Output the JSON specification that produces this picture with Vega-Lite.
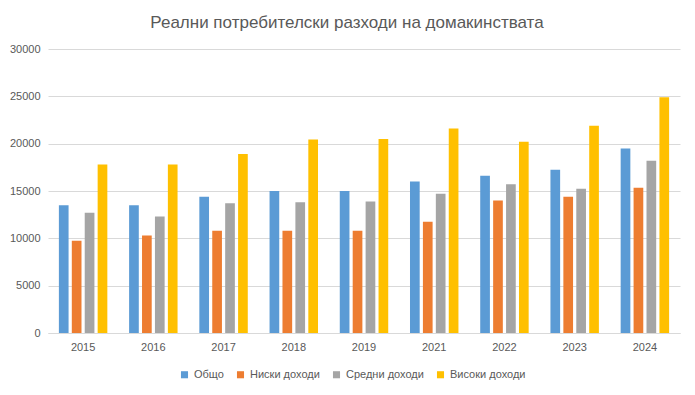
{
  "$schema": "https://vega.github.io/schema/vega-lite/v6.json",
  "width": 632,
  "height": 284,
  "autosize": "none",
  "padding": {"left": 48, "top": 49, "right": 15, "bottom": 62},
  "background": "white",
  "title": {
    "text": "Реални потребителски разходи на домакинствата",
    "fontSize": 17,
    "font": "Liberation Sans",
    "fontWeight": "normal",
    "color": "#595959",
    "anchor": "middle",
    "offset": 11,
    "dx": -17
  },
  "data": {
    "values": [
      {"year": "2015", "series": "Общо", "value": 13500},
      {"year": "2015", "series": "Ниски доходи", "value": 9750},
      {"year": "2015", "series": "Средни доходи", "value": 12700},
      {"year": "2015", "series": "Високи доходи", "value": 17800},
      {"year": "2016", "series": "Общо", "value": 13500},
      {"year": "2016", "series": "Ниски доходи", "value": 10300},
      {"year": "2016", "series": "Средни доходи", "value": 12300},
      {"year": "2016", "series": "Високи доходи", "value": 17800},
      {"year": "2017", "series": "Общо", "value": 14400},
      {"year": "2017", "series": "Ниски доходи", "value": 10800},
      {"year": "2017", "series": "Средни доходи", "value": 13700},
      {"year": "2017", "series": "Високи доходи", "value": 18900},
      {"year": "2018", "series": "Общо", "value": 15000},
      {"year": "2018", "series": "Ниски доходи", "value": 10800},
      {"year": "2018", "series": "Средни доходи", "value": 13800},
      {"year": "2018", "series": "Високи доходи", "value": 20450},
      {"year": "2019", "series": "Общо", "value": 15000},
      {"year": "2019", "series": "Ниски доходи", "value": 10800},
      {"year": "2019", "series": "Средни доходи", "value": 13900},
      {"year": "2019", "series": "Високи доходи", "value": 20500},
      {"year": "2021", "series": "Общо", "value": 16000},
      {"year": "2021", "series": "Ниски доходи", "value": 11750},
      {"year": "2021", "series": "Средни доходи", "value": 14700},
      {"year": "2021", "series": "Високи доходи", "value": 21600},
      {"year": "2022", "series": "Общо", "value": 16600},
      {"year": "2022", "series": "Ниски доходи", "value": 14000},
      {"year": "2022", "series": "Средни доходи", "value": 15700},
      {"year": "2022", "series": "Високи доходи", "value": 20200},
      {"year": "2023", "series": "Общо", "value": 17250},
      {"year": "2023", "series": "Ниски доходи", "value": 14400},
      {"year": "2023", "series": "Средни доходи", "value": 15250},
      {"year": "2023", "series": "Високи доходи", "value": 21900},
      {"year": "2024", "series": "Общо", "value": 19500},
      {"year": "2024", "series": "Ниски доходи", "value": 15350},
      {"year": "2024", "series": "Средни доходи", "value": 18200},
      {"year": "2024", "series": "Високи доходи", "value": 24900}
    ]
  },
  "mark": {"type": "bar"},
  "encoding": {
    "x": {
      "field": "year",
      "type": "nominal",
      "title": null,
      "scale": {"paddingInner": 0.31, "paddingOuter": 0.155},
      "axis": {
        "labelAngle": 0,
        "ticks": false,
        "domainColor": "#d9d9d9",
        "labelColor": "#595959",
        "labelFont": "Liberation Sans",
        "labelFontSize": 11,
        "labelPadding": 8
      }
    },
    "xOffset": {
      "field": "series",
      "type": "nominal",
      "sort": ["Общо", "Ниски доходи", "Средни доходи", "Високи доходи"],
      "scale": {"paddingInner": 0.25, "paddingOuter": 0}
    },
    "y": {
      "field": "value",
      "type": "quantitative",
      "title": null,
      "scale": {"domain": [0, 30000], "nice": false},
      "axis": {
        "values": [0, 5000, 10000, 15000, 20000, 25000, 30000],
        "format": "d",
        "domain": false,
        "ticks": false,
        "gridColor": "#d9d9d9",
        "labelColor": "#595959",
        "labelFont": "Liberation Sans",
        "labelFontSize": 11,
        "labelPadding": 8
      }
    },
    "color": {
      "field": "series",
      "type": "nominal",
      "sort": ["Общо", "Ниски доходи", "Средни доходи", "Високи доходи"],
      "scale": {
        "domain": ["Общо", "Ниски доходи", "Средни доходи", "Високи доходи"],
        "range": ["#5B9BD5", "#ED7D31", "#A5A5A5", "#FFC000"]
      },
      "legend": {
        "title": null,
        "orient": "none",
        "legendX": 131,
        "legendY": 320,
        "direction": "horizontal",
        "symbolType": "square",
        "symbolSize": 50,
        "labelFont": "Liberation Sans",
        "labelFontSize": 11,
        "labelColor": "#595959",
        "columnPadding": 11
      }
    }
  },
  "config": {"view": {"stroke": null}}
}
